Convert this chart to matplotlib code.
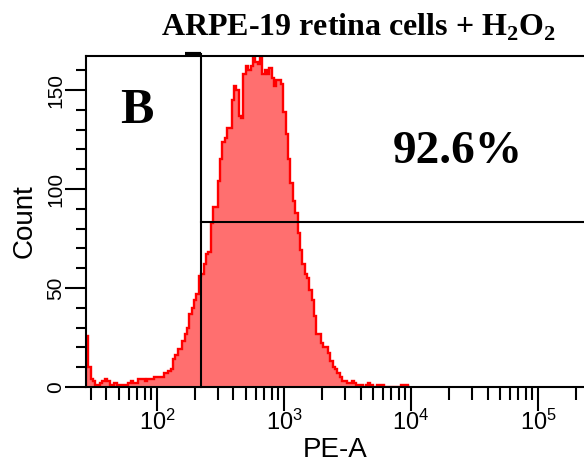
import numpy as np
import matplotlib.pyplot as plt
from matplotlib.ticker import LogLocator, LogFormatterMathtext, MultipleLocator, NullFormatter

plt.rcParams['font.family'] = ['Liberation Sans', 'DejaVu Sans']
plt.rcParams['mathtext.fontset'] = 'custom'
plt.rcParams['mathtext.rm'] = 'Liberation Serif'
plt.rcParams['mathtext.bf'] = 'Liberation Serif:bold'

# histogram channels (log10 spacing) and event counts
log_start = 1.441
log_step = 0.0185
counts = [26, 10, 4, 3, 1, 1, 2, 3, 4, 3,
          1, 1, 2, 1, 1, 1, 1, 1, 2, 3,
          2, 2, 4, 4, 4, 3, 4, 4, 4, 5,
          5, 5, 5, 7, 7, 8, 9, 14, 16, 19,
          19, 23, 27, 30, 37, 40, 44, 47, 56, 57,
          62, 67, 68, 83, 91, 91, 104, 115, 124, 126,
          131, 131, 145, 152, 150, 137, 136, 158, 162, 160,
          162, 166, 164, 163, 167, 158, 160, 158, 161, 156,
          152, 155, 155, 153, 139, 128, 115, 103, 94, 88,
          78, 69, 62, 57, 55, 49, 44, 36, 27, 27,
          22, 20, 20, 17, 13, 10, 9, 7, 5, 3,
          3, 2, 2, 3, 2, 1, 1, 1, 0, 1,
          2, 1, 0, 0, 1, 1, 1, 0, 0, 0,
          0, 0, 0, 0, 1, 1, 1, 0]

gate_x = 221
gate_y = 83.3
x_range = (27.6, 2.3e5)
y_max = 167.2
title = r'ARPE-19 retina cells + H$_{\mathbf{2}}$O$_{\mathbf{2}}$'
panel = 'B'
pct_label = '92.6%'

edges = 10 ** (log_start + log_step * np.arange(len(counts) + 1))

fig = plt.figure(figsize=(5.84, 4.75), dpi=100)
ax = fig.add_axes([0.1473, 0.1853, 0.8527, 0.6968])

ax.stairs(counts, edges, fill=True, color='#ff6f6f', linewidth=0)
ax.stairs(counts, edges, baseline=0, color='#ff0000', linewidth=1.7)

ax.set_xscale('log')
ax.set_xlim(*x_range)
ax.set_ylim(0, y_max)

# gate
ax.plot([gate_x, gate_x], [0, 168.2], color='black', lw=1.5, clip_on=False, zorder=5)
ax.plot([166, gate_x], [168.2, 168.2], color='black', lw=3, clip_on=False, zorder=5,
        solid_capstyle='butt')
ax.plot([gate_x, x_range[1]], [gate_y, gate_y], color='black', lw=1.5, zorder=5)

for s in ['left', 'bottom', 'top']:
    ax.spines[s].set_linewidth(1.5)
ax.spines['right'].set_visible(False)

ax.xaxis.set_major_locator(LogLocator(base=10))
ax.xaxis.set_minor_locator(LogLocator(base=10, subs=np.arange(2, 10)))
ax.xaxis.set_major_formatter(LogFormatterMathtext())
ax.xaxis.set_minor_formatter(NullFormatter())
ax.yaxis.set_major_locator(MultipleLocator(50))
ax.yaxis.set_minor_locator(MultipleLocator(10))

ax.tick_params(axis='x', which='major', length=17, width=1.5, labelsize=17, pad=-1)
ax.tick_params(axis='x', which='minor', length=9, width=1.5)
ax.tick_params(axis='y', which='major', length=15, width=1.5, labelsize=15, pad=0,
               labelrotation=90)
ax.tick_params(axis='y', which='minor', length=7, width=1.5)
for lab in ax.get_yticklabels():
    lab.set_va('center')

ax.set_xlabel('PE-A', fontsize=20, labelpad=2)
ax.set_ylabel('Count', fontsize=20, labelpad=6)

fig.text(137 / 584, 1 - 111 / 475, panel, ha='center', va='center',
         family='Liberation Serif', weight='bold', fontsize=36)
fig.text(458 / 584, 1 - 152 / 475, pct_label, ha='center', va='center',
         family='Liberation Serif', weight='bold', fontsize=34)
fig.text(359 / 584, 1 - 27 / 475, title, ha='center', va='center',
         family='Liberation Serif', weight='bold', fontsize=23)

fig.savefig('out.png', dpi=100)
